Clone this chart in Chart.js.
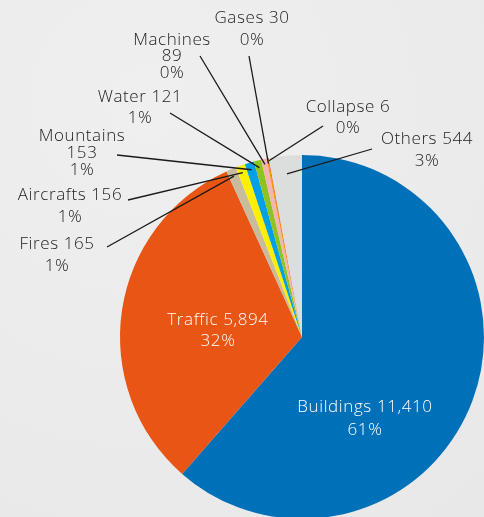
<!DOCTYPE html>
<html>
<head>
<meta charset="utf-8">
<script src="https://cdn.jsdelivr.net/npm/chart.js@4"></script>
<style>
  html, body { margin: 0; padding: 0; overflow: hidden; }
  body {
    width: 484px; height: 517px;
    background: #ebebeb;
    background-image: radial-gradient(circle at 30% 20%, #efefef 0%, #e8e8e8 100%);
  }
  #wrap { position: absolute; left: 0; top: 0; width: 484px; height: 600px; }
</style>
</head>
<body>
<div id="wrap"><canvas id="pieChart"></canvas></div>
<script>
// data
const categories = ['Buildings', 'Traffic', 'Fires', 'Aircrafts', 'Mountains', 'Water', 'Machines', 'Gases', 'Collapse', 'Others'];
const values = [11410, 5894, 165, 156, 153, 121, 89, 30, 6, 544];
const colors = ['#0070b9', '#e95514', '#c9bc9c', '#fff000', '#00a0e4', '#8fc31f', '#f4b4b4', '#f39800', '#e60012', '#dcdddd'];

// label placement (text anchor, line spacing, leader end)
const labelLayout = [
  { x: 365, y: 407, lh: 23, split: false, color: '#ffffff' },
  { x: 218, y: 320, lh: 21, split: false, color: '#ffffff' },
  { x: 57,  y: 244, lh: 22, split: false, lx: 107, ly: 247, r: 0.96 },
  { x: 70,  y: 195, lh: 22, split: false, lx: 128, ly: 200, r: 0.96 },
  { x: 82,  y: 136, lh: 17, split: true,  lx: 117, ly: 155, r: 0.96 },
  { x: 140, y: 97,  lh: 21, split: false, lx: 170, ly: 113, r: 0.96 },
  { x: 172, y: 40,  lh: 16.5, split: true, lx: 200, ly: 56, r: 0.97 },
  { x: 252, y: 18,  lh: 22, split: false, lx: 249, ly: 56,  r: 0.97 },
  { x: 348, y: 107, lh: 21, split: false, lx: 323, ly: 126, r: 0.985 },
  { x: 427, y: 139, lh: 22, split: false, lx: 372, ly: 149, r: 0.9 }
];

const total = values.reduce((a, b) => a + b, 0);

function labelLines(i) {
  const pct = Math.round(values[i] / total * 100) + '%';
  const num = values[i].toLocaleString('en-US');
  if (labelLayout[i].split) return [categories[i], num, pct];
  return [categories[i] + ' ' + num, pct];
}

const calloutLabels = {
  id: 'calloutLabels',
  afterDatasetsDraw(chart) {
    const ctx = chart.ctx;
    const meta = chart.getDatasetMeta(0);
    ctx.save();
    ctx.font = '300 17px "Open Sans", "Noto Sans", sans-serif';
    ctx.letterSpacing = '0.6px';
    ctx.textAlign = 'center';
    ctx.textBaseline = 'middle';
    meta.data.forEach((arc, i) => {
      const L = labelLayout[i];
      if (L.lx !== undefined) {
        const mid = (arc.startAngle + arc.endAngle) / 2;
        const rr = arc.outerRadius * L.r;
        ctx.beginPath();
        ctx.moveTo(arc.x + Math.cos(mid) * rr, arc.y + Math.sin(mid) * rr);
        ctx.lineTo(L.lx, L.ly);
        ctx.strokeStyle = '#1a1a1a';
        ctx.lineWidth = 1.3;
        ctx.stroke();
      }
      ctx.fillStyle = L.color || '#222222';
      labelLines(i).forEach((t, k) => ctx.fillText(t, L.x, L.y + k * L.lh));
    });
    ctx.restore();
  }
};

new Chart(document.getElementById('pieChart').getContext('2d'), {
  type: 'pie',
  data: {
    labels: categories,
    datasets: [{
      data: values,
      backgroundColor: colors,
      borderWidth: 0
    }]
  },
  options: {
    responsive: true,
    maintainAspectRatio: false,
    animation: false,
    layout: { padding: { left: 120, right: 0, top: 155, bottom: 81 } },
    plugins: {
      legend: { display: false },
      tooltip: { enabled: false }
    }
  },
  plugins: [calloutLabels]
});
</script>
</body>
</html>
